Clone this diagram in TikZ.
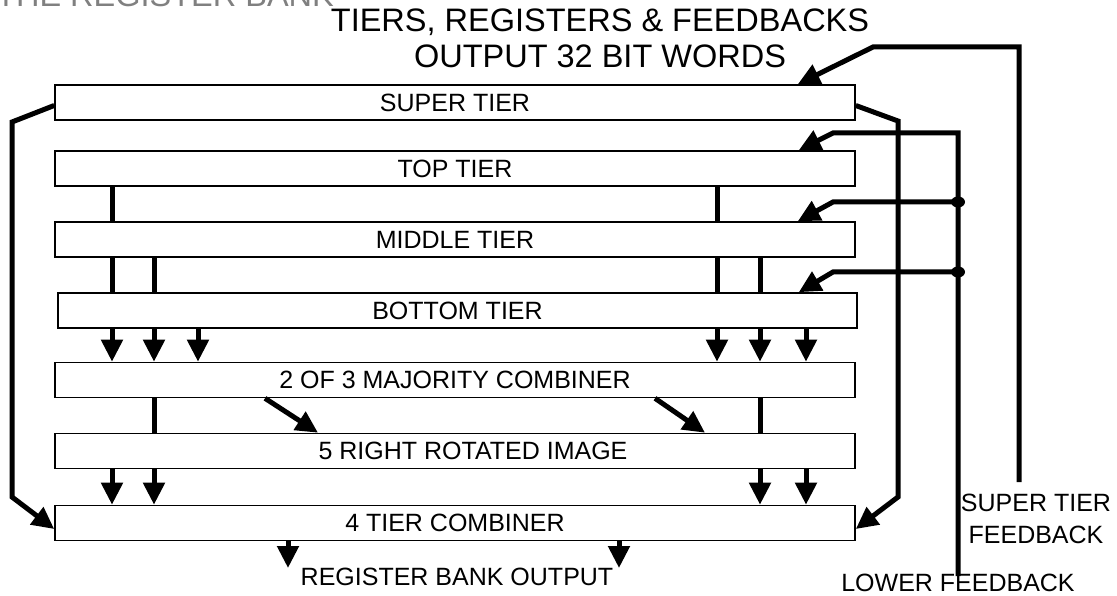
\documentclass[tikz,border=0pt]{standalone}
\usepackage{fontspec}
\setmainfont{Liberation Sans}
\usetikzlibrary{arrows.meta,shapes.geometric}

\begin{document}
\begin{tikzpicture}[x=1pt,y=-1pt,
  tier/.style={draw, line width=1.6pt, fill=white, minimum width=800pt,
               minimum height=35pt, inner sep=0pt,
               font=\fontsize{25}{29}\selectfont},
  lbl/.style={inner sep=0pt, font=\fontsize{25}{29}\selectfont},
  ttl/.style={inner sep=0pt, font=\fontsize{32.5}{36}\selectfont, anchor=base},
  conn/.style={line width=5pt, line join=miter},
  arr/.style={conn, -{Triangle[length=22pt,width=21pt]}},
  dot/.style={ellipse, fill, inner sep=0pt, minimum width=14pt, minimum height=11pt}
]
\useasboundingbox (0,0) rectangle (1117,596);

% heading (partly above the page edge) and subtitle
\node[ttl, anchor=base west, text=black!50] (head) at (-4,7) {THE REGISTER BANK};
\node[ttl] (title1) at (600,32) {TIERS, REGISTERS \& FEEDBACKS};
\node[ttl] (title2) at (600,68) {OUTPUT 32 BIT WORDS};

% the register tiers
\node[tier] (super) at (455,102.5) {SUPER TIER};
\node[tier] (top)   at (455,168.5) {TOP TIER};
\node[tier] (mid)   at (455,239.5) {MIDDLE TIER};
\node[tier, minimum width=799pt] (bot) at (457.5,310.5) {BOTTOM TIER};
\node[tier] (maj)   at (455,380)   {2 OF 3 MAJORITY COMBINER};
\node[tier] (rot)   at (455,451)   {};
\node[lbl]  (rotlbl) at (473,451)  {5 RIGHT ROTATED IMAGE};
\node[tier] (comb)  at (455,523)   {4 TIER COMBINER};

% outside labels
\node[lbl, align=center, anchor=base] (supfb) at (1036,543) {SUPER TIER\\[3pt]FEEDBACK};
\node[lbl, anchor=base] (lowfb) at (958,591) {LOWER FEEDBACK};
\node[lbl, anchor=base] (out) at (457,585) {REGISTER BANK OUTPUT};

% column positions of the vertical links
\coordinate (xa) at (112,0);
\coordinate (xb) at (154,0);
\coordinate (xc) at (198,0);
\coordinate (xd) at (717,0);
\coordinate (xe) at (760,0);
\coordinate (xf) at (806,0);

% top -> middle
\foreach \c in {xa,xd}
  \draw[conn] (\c |- top.south) -- (\c |- mid.north);
% middle -> bottom
\foreach \c in {xa,xb,xd,xe}
  \draw[conn] (\c |- mid.south) -- (\c |- bot.north);
% bottom -> majority combiner
\foreach \c in {xa,xb,xc,xd,xe,xf}
  \draw[arr] (\c |- bot.south) -- (\c |- maj.north);
% majority combiner -> rotated image
\foreach \c in {xb,xe}
  \draw[conn] (\c |- maj.south) -- (\c |- rot.north);
\coordinate (da) at (265,0);
\coordinate (db) at (318,0);
\coordinate (dc) at (655,0);
\coordinate (dd) at (705,0);
\draw[arr] (da |- maj.south) -- (db |- rot.north);
\draw[arr] (dc |- maj.south) -- (dd |- rot.north);
% rotated image -> 4 tier combiner
\foreach \c in {xa,xb,xe,xf}
  \draw[arr] (\c |- rot.south) -- (\c |- comb.north);
% combiner output
\coordinate (oa) at (288,568);
\coordinate (ob) at (619,568);
\draw[arr] (oa |- comb.south) -- (oa);
\draw[arr] (ob |- comb.south) -- (ob);

% super tier bypass, left and right
\coordinate (la) at (12,122);
\coordinate (lb) at (12,497);
\coordinate (ra) at (898,121);
\coordinate (rb) at (898,497);
\draw[arr] ([yshift=-3pt]super.west) -- (la) -- (lb) -- ([yshift=-6pt]comb.west);
\draw[arr] ([yshift=-3pt]super.east) -- (ra) -- (rb) -- ([yshift=-6pt]comb.east);

% super tier feedback
\coordinate (sa) at (1019,47);
\coordinate (sb) at (873,47);
\draw[arr] ([yshift=61pt]supfb.base -| sa) -- (sa) -- (sb) -- ([xshift=-58pt]super.north east);

% lower feedback with its two branches
\coordinate (fa) at (958,133);
\coordinate (fb) at (833,133);
\coordinate (fc) at (833,202);
\coordinate (fd) at (833,272);
\draw[arr] ([yshift=15pt]lowfb.base) -- (fa) -- (fb) -- ([xshift=-57pt]top.north east);
\node[dot] (j1) at (958,202) {};
\node[dot] (j2) at (958,272) {};
\draw[arr] (j1.center) -- (fc) -- ([xshift=-58pt]mid.north east);
\draw[arr] (j2.center) -- (fd) -- ([xshift=-59pt]bot.north east);
\end{tikzpicture}
\end{document}
